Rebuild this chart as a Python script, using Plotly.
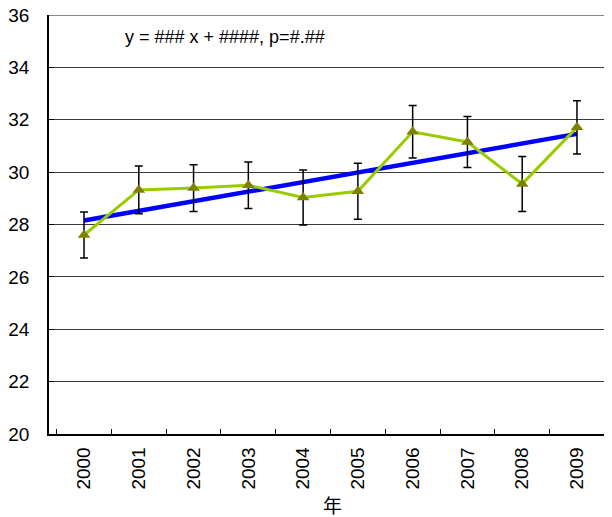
import plotly.graph_objects as go

years = ["2000", "2001", "2002", "2003", "2004", "2005", "2006", "2007", "2008", "2009"]
values = [27.6, 29.32, 29.39, 29.5, 29.03, 29.27, 31.54, 31.15, 29.55, 31.71]
errors = [0.88, 0.91, 0.89, 0.89, 1.05, 1.07, 1.0, 0.97, 1.05, 1.02]
trend_years = ["2000", "2009"]
trend_values = [28.15, 31.46]
y_ticks = [20, 22, 24, 26, 28, 30, 32, 34, 36]
equation_text = "y = ### x + ####, p=#.##"
x_title = "年"

FONT = "Liberation Sans, Arial, Noto Sans CJK JP, sans-serif"

fig = go.Figure()
fig.add_trace(go.Scatter(
    x=trend_years, y=trend_values, mode="lines",
    line=dict(color="#0000FF", width=4.5), hoverinfo="skip", showlegend=False,
))
fig.add_trace(go.Scatter(
    x=years, y=values, mode="lines+markers",
    line=dict(color="#99CC00", width=3),
    marker=dict(symbol="triangle-up", size=11, color="#808000"),
    error_y=dict(type="data", array=errors, visible=True, color="#000000", thickness=1.5, width=4),
    showlegend=False,
))

# top frame line at the upper end of the value axis
fig.add_shape(type="line", xref="paper", yref="y", x0=0, x1=1,
              y0=y_ticks[-1], y1=y_ticks[-1], line=dict(color="#888888", width=2))

fig.update_layout(
    width=604, height=509,
    margin=dict(l=41, r=0, t=7, b=83),
    paper_bgcolor="white", plot_bgcolor="white",
    font=dict(family=FONT, color="black", size=19),
    xaxis=dict(
        type="category", categoryorder="array", categoryarray=years,
        tickangle=-90, tickfont=dict(size=19),
        ticks="inside", ticklen=5, tickcolor="black", tickson="boundaries",
        showline=True, linecolor="black", linewidth=1.5,
        showgrid=False, zeroline=False, automargin=False,
        ticklabelstandoff=4,
    ),
    yaxis=dict(
        range=[20, 36], tickvals=y_ticks, tickfont=dict(size=19),
        ticks="inside", ticklen=5, tickcolor="black",
        showline=True, linecolor="black", linewidth=1.5,
        showgrid=True, gridcolor="#3a3a3a", gridwidth=1.2,
        zeroline=False, ticklabelstandoff=14, automargin=False,
        ticklabeloverflow="allow",
    ),
    annotations=[
        dict(text=equation_text, x=0.313, y=0.947, xref="paper", yref="paper",
             xanchor="center", yanchor="middle", showarrow=False,
             font=dict(size=18, family=FONT)),
        dict(text=x_title, x=0.504, y=-0.174, xref="paper", yref="paper",
             xanchor="center", yanchor="middle", showarrow=False,
             font=dict(size=19, family=FONT)),
    ],
)

fig.write_html("out.html")
